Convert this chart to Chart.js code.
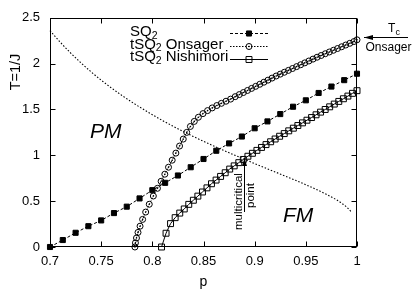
<!DOCTYPE html>
<html><head><meta charset="utf-8">
<script src="https://cdn.jsdelivr.net/npm/chart.js@4"></script>
<style>html,body{margin:0;padding:0;background:#fff}</style>
</head><body>
<canvas id="c" width="415" height="291" style="display:block;width:415px;height:291px"></canvas>
<script>
// ---- data ----
const X_TICK_LABELS = ['0.7','0.75','0.8','0.85','0.9','0.95','1'];
const Y_TICK_LABELS = ['0','0.5','1','1.5','2','2.5'];

const SQ2_P = [0.7,0.7125,0.725,0.7375,0.75,0.7625,0.775,0.7875,0.8,0.8125,0.825,0.8375,0.85,0.8625,0.875,0.8875,0.9,0.9125,0.925,0.9375,0.95,0.9625,0.975,0.9875,1.0];
const SQ2_T = [0,0.076,0.155,0.227,0.29,0.37,0.44,0.53,0.62,0.70,0.78,0.87,0.96,1.05,1.13,1.205,1.295,1.37,1.45,1.53,1.60,1.68,1.75,1.82,1.89];

const ONS_P = [0.783,0.7835,0.7845,0.786,0.788,0.7905,0.7935,0.797,0.801,0.805,
  0.8086,0.8122,0.8158,0.8194,0.823,0.8266,0.8302,0.8336,
  0.8372,0.841,0.845,0.8495,0.854,0.8585,0.863,0.8675,0.872,0.8765,
  0.881,0.885,0.889,0.893,0.897,0.901,0.905,0.909,0.913,0.917,0.921,0.925,0.929,0.933,0.937,0.941,0.945,0.949,0.953,0.957,0.961,0.965,0.969,0.973,0.977,0.981,0.985,0.989,0.993,0.997,1.0];
const ONS_T = [0,0.045,0.098,0.159,0.227,0.301,0.381,0.466,0.556,0.64,
  0.717,0.794,0.870,0.947,1.024,1.101,1.177,1.25,
  1.315,1.37,1.415,1.455,1.488,1.517,1.543,1.567,1.59,1.613,
  1.64,1.6625,1.685,1.7075,1.73,1.7525,1.775,1.7975,1.82,1.8425,1.865,1.8855,1.906,1.9265,1.947,1.9675,1.988,2.0085,2.029,2.0495,2.07,2.089,2.108,2.127,2.146,2.165,2.184,2.203,2.222,2.241,2.26];

const NIS_P = [0.809,0.8134,0.8178,0.8223,0.8268,0.8312,0.8356,0.8401,0.8445,0.849,0.8534,0.8578,0.8623,0.8667,0.8712,0.8756,0.88,0.8845,0.8889,0.8934,0.8978,0.9022,0.9067,0.9111,0.9156,0.92,0.9244,0.9289,0.9333,0.9378,0.9422,0.9467,0.9511,0.9556,0.96,0.9644,0.9689,0.9733,0.9778,0.9822,0.9867,0.9911,0.9956,1.0];
const NIS_T = [0,0.15,0.255,0.32,0.37,0.415,0.465,0.51,0.555,0.60,0.645,0.69,0.73,0.77,0.81,0.85,0.885,0.92,0.955,0.99,1.022,1.054,1.086,1.117,1.148,1.178,1.208,1.237,1.267,1.296,1.325,1.354,1.383,1.412,1.442,1.471,1.50,1.529,1.559,1.588,1.617,1.646,1.676,1.705];

const NLINE_P = [0.70,0.71,0.72,0.73,0.74,0.75,0.76,0.77,0.78,0.79,0.80,0.81,0.82,0.83,0.84,0.85,0.86,0.87,0.88,0.89,0.90,0.91,0.92,0.93,0.94,0.95,0.96,0.97,0.98,0.985,0.99,0.995];
const NLINE_T = [2.360,2.234,2.118,2.011,1.912,1.820,1.735,1.655,1.580,1.510,1.443,1.379,1.319,1.261,1.206,1.153,1.102,1.052,1.004,0.957,0.910,0.864,0.819,0.773,0.727,0.679,0.629,0.575,0.514,0.478,0.435,0.378];

const LEGEND = [
  {main:'SQ', sub:'2', rest:''},
  {main:'tSQ', sub:'2', rest:' Onsager'},
  {main:'tSQ', sub:'2', rest:' Nishimori'}
];

// ---- drawing ----
const FONT = "'Liberation Sans', Arial, Helvetica, sans-serif";
const pts = (P, T) => P.map((p, i) => ({x: p, y: T[i]}));

const styles = [
  {dash:[3,2], pointStyle:'rect', radius:3.6, bg:'#000', dot:false},
  {dash:[1.5,1.5], pointStyle:'circle', radius:3, bg:'rgba(0,0,0,0)', dot:true},
  {dash:[], pointStyle:'rect', radius:4.2, bg:'rgba(0,0,0,0)', dot:false}
];

function arrow(ctx, x1, y1, x2, y2, len, hw) {
  ctx.beginPath(); ctx.moveTo(x1, y1); ctx.lineTo(x2, y2); ctx.stroke();
  const a = Math.atan2(y2 - y1, x2 - x1);
  ctx.beginPath();
  ctx.moveTo(x2, y2);
  ctx.lineTo(x2 - len * Math.cos(a) + hw * Math.sin(a), y2 - len * Math.sin(a) - hw * Math.cos(a));
  ctx.lineTo(x2 - len * Math.cos(a) - hw * Math.sin(a), y2 - len * Math.sin(a) + hw * Math.cos(a));
  ctx.closePath(); ctx.fill();
}

const deco = {
  id: 'deco',
  afterDatasetsDraw(chart) {
    const ctx = chart.ctx;
    ctx.save(); ctx.fillStyle = '#000';
    chart.getDatasetMeta(2).data.forEach(el => {
      ctx.beginPath(); ctx.arc(el.x, el.y, 0.8, 0, 2 * Math.PI); ctx.fill();
    });
    ctx.restore();
  },
  afterDraw(chart) {
    const ctx = chart.ctx, a = chart.chartArea;
    const xs = chart.scales.x, ys = chart.scales.y;
    ctx.save();
    ctx.strokeStyle = '#000'; ctx.fillStyle = '#000'; ctx.lineWidth = 1; ctx.setLineDash([]);
    const L = Math.round(a.left) + 0.5, R = Math.round(a.right) - 0.5;
    const Tp = Math.round(a.top) + 0.5, B = Math.round(a.bottom) - 0.5;
    ctx.strokeRect(L, Tp, R - L, B - Tp);
    ctx.beginPath();
    xs.ticks.forEach(t => {
      const px = Math.round(xs.getPixelForValue(t.value)) + 0.5;
      ctx.moveTo(px, B); ctx.lineTo(px, B - 5);
      ctx.moveTo(px, Tp); ctx.lineTo(px, Tp + 5);
    });
    ys.ticks.forEach(t => {
      const py = Math.round(ys.getPixelForValue(t.value)) + 0.5;
      ctx.moveTo(L, py); ctx.lineTo(L + 5, py);
      ctx.moveTo(R, py); ctx.lineTo(R - 5, py);
    });
    ctx.stroke();

    // y title
    ctx.save();
    ctx.translate(16, 72); ctx.rotate(-Math.PI / 2);
    ctx.font = '14.5px ' + FONT; ctx.textAlign = 'center'; ctx.textBaseline = 'middle';
    ctx.fillText('T=1/J', 0, 0);
    ctx.restore();

    // legend
    const rowsText = [32, 44.5, 57], rowsLine = [33, 46, 59];
    LEGEND.forEach((e, i) => {
      let x = 130; const y = rowsText[i];
      ctx.textBaseline = 'middle'; ctx.textAlign = 'left';
      ctx.font = '15px ' + FONT; ctx.fillText(e.main, x, y); x += ctx.measureText(e.main).width;
      ctx.font = '10.5px ' + FONT; ctx.fillText(e.sub, x, y + 4); x += ctx.measureText(e.sub).width;
      ctx.font = '15px ' + FONT; ctx.fillText(e.rest, x, y);
      const s = styles[i], ly = rowsLine[i] + 0.5;
      ctx.setLineDash(s.dash);
      ctx.beginPath(); ctx.moveTo(230, ly); ctx.lineTo(268, ly); ctx.stroke();
      ctx.setLineDash([]);
      ctx.fillStyle = s.bg;
      Chart.helpers.drawPoint(ctx, {pointStyle: s.pointStyle, radius: s.radius, rotation: 0, borderWidth: 1}, 249, ly);
      ctx.fillStyle = '#000';
      if (s.dot) { ctx.beginPath(); ctx.arc(249, ly, 0.8, 0, 2 * Math.PI); ctx.fill(); }
    });

    // phase labels
    ctx.font = 'italic 21px ' + FONT; ctx.textAlign = 'left'; ctx.textBaseline = 'alphabetic';
    ctx.fillText('PM', 90, 138);
    ctx.fillText('FM', 283, 222);

    // multicritical point annotation
    ctx.font = '11.5px ' + FONT;
    ctx.save(); ctx.translate(242, 230); ctx.rotate(-Math.PI / 2);
    ctx.textAlign = 'left'; ctx.fillText('multicritical', 0, 0); ctx.restore();
    ctx.save(); ctx.translate(253.5, 208); ctx.rotate(-Math.PI / 2);
    ctx.textAlign = 'left'; ctx.fillText('point', 0, 0); ctx.restore();
    arrow(ctx, 244.5, 212, 244.5, 158, 8, 2.5);

    // Tc Onsager annotation
    ctx.font = '12px ' + FONT; ctx.textAlign = 'left';
    ctx.fillText('T', 388, 32);
    ctx.font = '9px ' + FONT; ctx.fillText('c', 395.5, 34.5);
    ctx.font = '12px ' + FONT; ctx.textAlign = 'center';
    ctx.fillText('Onsager', 388.5, 51);
    arrow(ctx, 408, 37.5, 364, 37.5, 9, 2.5);
    ctx.restore();
  }
};

new Chart(document.getElementById('c'), {
  type: 'scatter',
  data: {
    datasets: [
      {label:'Nishimori line', data: pts(NLINE_P, NLINE_T), showLine:true, pointRadius:0,
       borderColor:'#000', borderWidth:1.1, borderDash:[1.5,1.8], cubicInterpolationMode:'monotone', order:4, clip:false},
      {label:'SQ2', data: pts(SQ2_P, SQ2_T), showLine:true, borderColor:'#000', borderWidth:1, borderDash:[3,2],
       pointStyle:'rect', pointRadius:3.6, pointBackgroundColor:'#000', pointBorderColor:'#000', pointBorderWidth:1, order:1, clip:false},
      {label:'tSQ2 Onsager', data: pts(ONS_P, ONS_T), showLine:true, borderColor:'#000', borderWidth:1, borderDash:[1.5,1.5],
       pointStyle:'circle', pointRadius:3, pointBackgroundColor:'rgba(0,0,0,0)', pointBorderColor:'#000', pointBorderWidth:1, order:2, clip:false},
      {label:'tSQ2 Nishimori', data: pts(NIS_P, NIS_T), showLine:true, borderColor:'#000', borderWidth:1,
       pointStyle:'rect', pointRadius:4.2, pointBackgroundColor:'rgba(0,0,0,0)', pointBorderColor:'#000', pointBorderWidth:1, order:3, clip:false}
    ]
  },
  options: {
    responsive:false, animation:false, devicePixelRatio:1, events:[],
    layout:{padding:{top:16, right:58, left:0, bottom:0}},
    plugins:{legend:{display:false}, tooltip:{enabled:false}},
    scales:{
      x:{type:'linear', min:0.7, max:1.0,
         ticks:{stepSize:0.05, autoSkip:false, maxRotation:0, padding:7, color:'#000',
                font:{family:FONT, size:13}, callback:(v,i)=>X_TICK_LABELS[i]},
         grid:{display:false, drawTicks:false}, border:{display:false},
         title:{display:true, text:'p', color:'#000', font:{family:FONT, size:14}, padding:{top:0, bottom:0}},
         afterFit:s=>{s.height=44;}},
      y:{type:'linear', min:0, max:2.5,
         ticks:{stepSize:0.5, padding:10, color:'#000', font:{family:FONT, size:13}, callback:(v,i)=>Y_TICK_LABELS[i]},
         grid:{display:false, drawTicks:false}, border:{display:false},
         afterFit:s=>{s.width=50;}}
    }
  },
  plugins:[deco]
});
</script>
</body></html>
